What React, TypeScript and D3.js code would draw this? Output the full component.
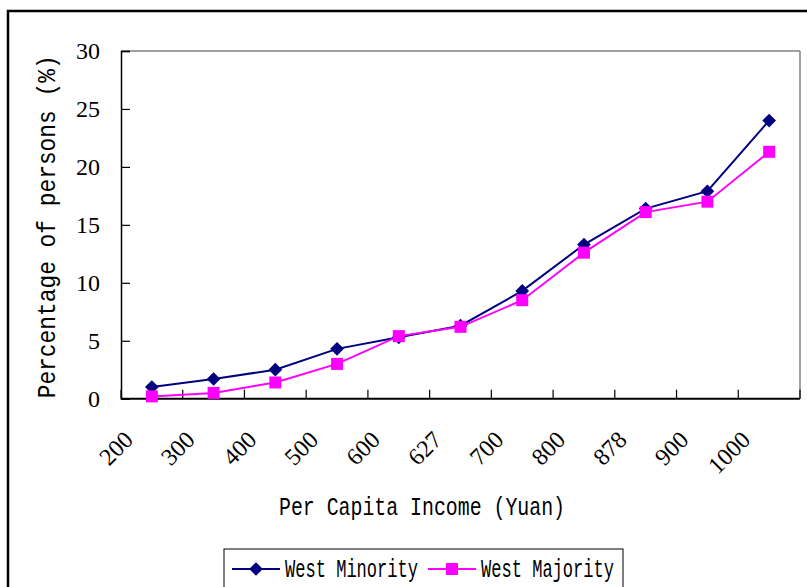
import React, { useEffect, useRef } from "react";
import * as d3 from "d3";

// Categorías de ingreso per cápita (yuan)
const categories = ["200", "300", "400", "500", "600", "627", "700", "800", "878", "900", "1000"];
const westMinority = [1.0, 1.7, 2.5, 4.3, 5.3, 6.3, 9.3, 13.3, 16.4, 17.9, 24.0];
const westMajority = [0.2, 0.5, 1.4, 3.0, 5.4, 6.2, 8.5, 12.6, 16.1, 17.0, 21.3];
const yTicks = [0, 5, 10, 15, 20, 25, 30];

const NAVY = "#000080";
const MAGENTA = "#FF00FF";
const TICK_FONT = "Liberation Serif, DejaVu Serif, serif";
const TITLE_FONT = "Liberation Mono, DejaVu Sans Mono, monospace";

const W = 807;
const H = 587;
const M = { top: 51, right: 7, bottom: 188.3, left: 121 };

const App: React.FC = () => {
    const svgRef = useRef<SVGSVGElement>(null);

    useEffect(() => {
        if (!svgRef.current) return;
        const svg = d3.select(svgRef.current);
        svg.selectAll("*").remove();

        const iW = W - M.left - M.right;
        const iH = H - M.top - M.bottom;

        // Marco exterior
        svg.append("rect")
            .attr("x", 8).attr("y", 11)
            .attr("width", 1000).attr("height", 800)
            .attr("fill", "white")
            .attr("stroke", "#000").attr("stroke-width", 2.5);

        const g = svg.append("g").attr("transform", `translate(${M.left},${M.top})`);

        const x = d3.scaleBand<string>().domain(categories).range([0, iW]).padding(0);
        const y = d3.scaleLinear().domain([0, 30]).range([iH, 0]);
        const cx = (c: string) => x(c)! + x.bandwidth() / 2;

        // Borde del área de trazado (arriba y derecha en gris)
        g.append("line").attr("x1", 0).attr("x2", iW).attr("y1", 0).attr("y2", 0)
            .attr("stroke", "#808080").attr("stroke-width", 1.5);
        g.append("line").attr("x1", iW).attr("x2", iW).attr("y1", 0).attr("y2", iH)
            .attr("stroke", "#808080").attr("stroke-width", 1.5);

        // Eje Y
        const yAxis = g.append("g")
            .call(d3.axisLeft(y).tickValues(yTicks).tickSize(-9).tickPadding(21).tickFormat((d) => String(d)));
        yAxis.attr("font-family", null).attr("font-size", null);
        yAxis.select(".domain").attr("stroke", "#000").attr("stroke-width", 1.5);
        yAxis.selectAll("line").attr("stroke", "#000").attr("stroke-width", 1.2);
        yAxis.selectAll("text")
            .style("font-family", TICK_FONT)
            .style("font-size", "24px")
            .attr("fill", "#000");

        // Eje X (marcas entre categorías)
        g.append("line").attr("x1", 0).attr("x2", iW).attr("y1", iH).attr("y2", iH)
            .attr("stroke", "#000").attr("stroke-width", 2);
        const bounds = categories.map((c) => x(c)!).concat([iW]);
        g.selectAll(".xtick")
            .data(bounds)
            .enter()
            .append("line")
            .attr("class", "xtick")
            .attr("x1", (d) => d).attr("x2", (d) => d)
            .attr("y1", iH).attr("y2", iH - 9)
            .attr("stroke", "#000").attr("stroke-width", 1.2);

        g.selectAll(".xlabel")
            .data(categories)
            .enter()
            .append("text")
            .attr("class", "xlabel")
            .attr("transform", (d) => `translate(${cx(d) - 23},${iH + 37}) rotate(-45)`)
            .attr("text-anchor", "end")
            .attr("dominant-baseline", "central")
            .style("font-family", TICK_FONT)
            .style("font-size", "24px")
            .attr("fill", "#000")
            .text((d) => d);

        // Líneas
        const line = d3.line<number>()
            .x((_d, i) => cx(categories[i]))
            .y((d) => y(d));

        g.append("path").datum(westMinority)
            .attr("fill", "none").attr("stroke", NAVY).attr("stroke-width", 2)
            .attr("d", line);
        g.append("path").datum(westMajority)
            .attr("fill", "none").attr("stroke", MAGENTA).attr("stroke-width", 2)
            .attr("d", line);

        const diamond = d3.symbol().type(d3.symbolDiamond2).size(120);
        g.selectAll(".mk-min")
            .data(westMinority)
            .enter()
            .append("path")
            .attr("class", "mk-min")
            .attr("transform", (d, i) => `translate(${cx(categories[i])},${y(d)})`)
            .attr("d", diamond)
            .attr("fill", NAVY);

        g.selectAll(".mk-maj")
            .data(westMajority)
            .enter()
            .append("rect")
            .attr("class", "mk-maj")
            .attr("x", (_d, i) => cx(categories[i]) - 6)
            .attr("y", (d) => y(d) - 6)
            .attr("width", 12).attr("height", 12)
            .attr("fill", MAGENTA);

        // Títulos de ejes (ligeramente estirados en vertical, como el original)
        svg.append("text")
            .attr("transform", `translate(48,${M.top + iH / 2 + 2}) rotate(-90) scale(1,1.15)`)
            .attr("text-anchor", "middle")
            .attr("dominant-baseline", "central")
            .style("font-family", TITLE_FONT)
            .style("font-size", "23px")
            .attr("textLength", 343)
            .attr("lengthAdjust", "spacingAndGlyphs")
            .attr("fill", "#000")
            .text("Percentage of persons (%)");

        svg.append("text")
            .attr("transform", "translate(279,508) scale(1,1.15)")
            .attr("dominant-baseline", "central")
            .style("font-family", TITLE_FONT)
            .style("font-size", "23px")
            .attr("textLength", 286)
            .attr("lengthAdjust", "spacingAndGlyphs")
            .attr("fill", "#000")
            .text("Per Capita Income (Yuan)");

        // Leyenda
        const leg = svg.append("g");
        leg.append("rect")
            .attr("x", 224).attr("y", 549)
            .attr("width", 399).attr("height", 60)
            .attr("fill", "white").attr("stroke", "#000").attr("stroke-width", 1);

        const items = [
            { label: "West Minority", color: NAVY, x0: 232, kind: "diamond" },
            { label: "West Majority", color: MAGENTA, x0: 428, kind: "square" },
        ];
        items.forEach((it) => {
            leg.append("line")
                .attr("x1", it.x0).attr("x2", it.x0 + 48)
                .attr("y1", 569).attr("y2", 569)
                .attr("stroke", it.color).attr("stroke-width", 2);
            if (it.kind === "diamond") {
                leg.append("path")
                    .attr("transform", `translate(${it.x0 + 24},569)`)
                    .attr("d", diamond)
                    .attr("fill", it.color);
            } else {
                leg.append("rect")
                    .attr("x", it.x0 + 18).attr("y", 563)
                    .attr("width", 12).attr("height", 12)
                    .attr("fill", it.color);
            }
            leg.append("text")
                .attr("transform", `translate(${it.x0 + 53},570) scale(1,1.15)`)
                .attr("dominant-baseline", "central")
                .style("font-family", TITLE_FONT)
                .style("font-size", "22px")
                .attr("textLength", 133)
                .attr("lengthAdjust", "spacingAndGlyphs")
                .attr("fill", "#000")
                .text(it.label);
        });
    }, []);

    return (
        <div style={{ position: "absolute", left: 0, top: 0 }}>
            <svg ref={svgRef} width={W} height={H} style={{ display: "block" }} />
        </div>
    );
};

export default App;
